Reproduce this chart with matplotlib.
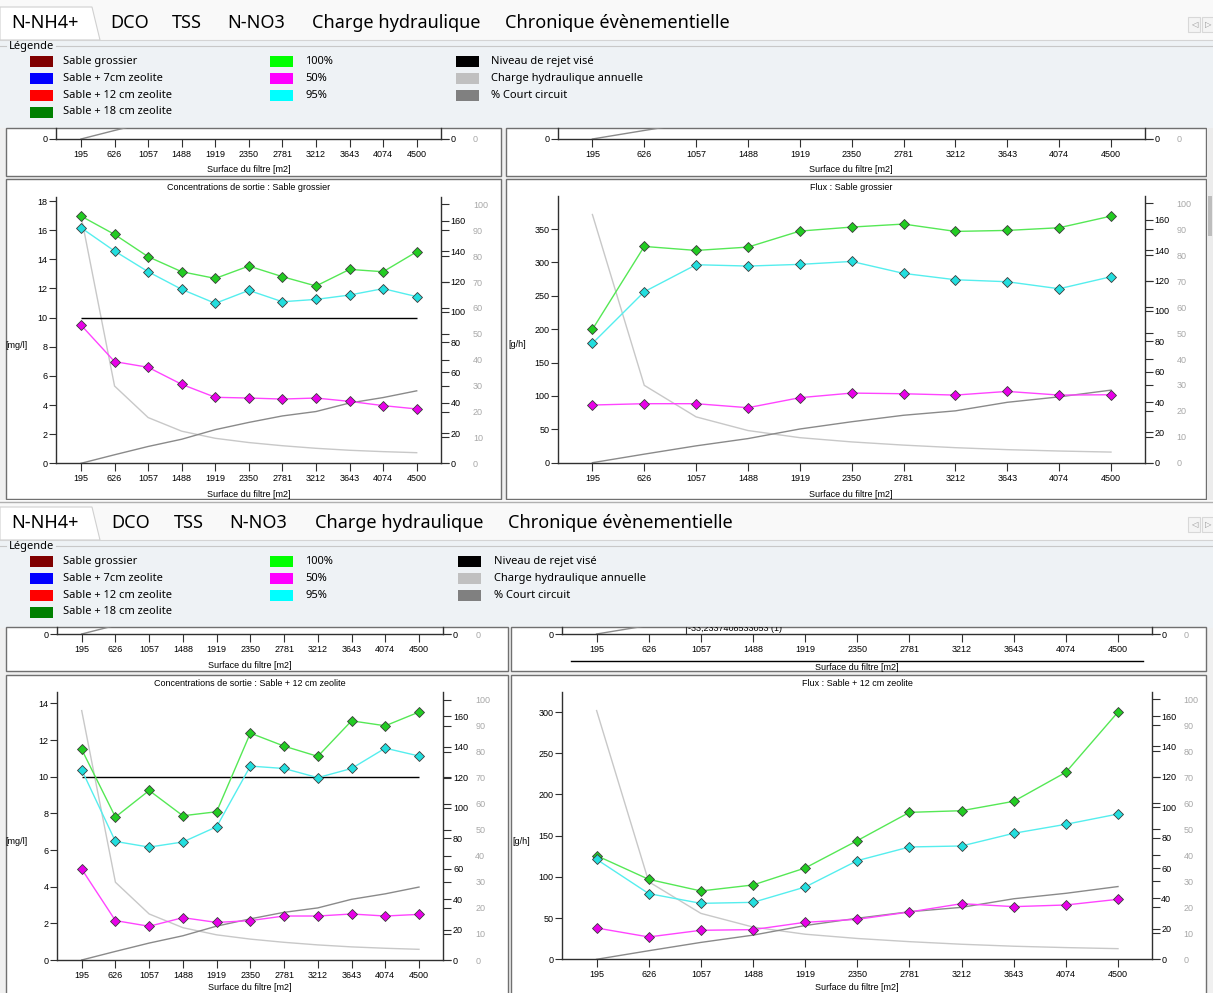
import numpy as np
import matplotlib.pyplot as plt
from matplotlib.patches import Rectangle, Polygon
from matplotlib.lines import Line2D
from matplotlib import font_manager

# surfaces du filtre (m2), abscisses communes a tous les graphes
surfaces = ['195', '626', '1057', '1488', '1919', '2350', '2781', '3212', '3643', '4074', '4500']
idx = np.arange(len(surfaces))

# courbes communes (axes secondaires)
charge = [163.6, 51.0, 30.2, 21.2, 16.5, 13.7, 11.6, 9.9, 8.6, 7.7, 7.0]
court_circuit = [0, 3.3, 6.5, 9.3, 13.0, 15.8, 18.3, 20.0, 23.3, 25.4, 28.0]
rejet = 10

# Sable grossier
c100_gros = [16.97, 15.71, 14.18, 13.15, 12.69, 13.54, 12.81, 12.17, 13.31, 13.15, 14.52]
c95_gros = [16.17, 14.57, 13.15, 11.94, 10.98, 11.87, 11.09, 11.25, 11.55, 11.99, 11.44]
c50_gros = [9.49, 6.98, 6.59, 5.42, 4.53, 4.48, 4.41, 4.48, 4.25, 3.96, 3.73]
f100_gros = [199.7, 324.0, 318.0, 323.0, 347.0, 353.0, 357.5, 346.5, 348.0, 352.0, 369.4]
f95_gros = [178.7, 256.1, 296.6, 294.6, 297.1, 301.5, 283.6, 274.1, 271.1, 260.6, 278.6]
f50_gros = [86.4, 88.4, 88.4, 82.4, 97.4, 104.3, 103.3, 101.3, 106.8, 101.3, 101.8]

# Sable + 12 cm zeolite
c100_z12 = [11.49, 7.80, 9.25, 7.87, 8.09, 12.38, 11.67, 11.11, 13.05, 12.78, 13.53]
c95_z12 = [10.38, 6.47, 6.16, 6.44, 7.27, 10.58, 10.45, 9.95, 10.45, 11.56, 11.13]
c50_z12 = [4.96, 2.15, 1.84, 2.31, 2.05, 2.15, 2.40, 2.40, 2.51, 2.40, 2.49]
f100_z12 = [125.8, 97.0, 82.9, 90.2, 110.8, 144.0, 178.3, 180.3, 191.7, 226.9, 300.0]
f95_z12 = [121.3, 79.7, 67.9, 69.1, 87.7, 119.7, 136.3, 137.5, 152.9, 163.8, 176.3]
f50_z12 = [38.0, 27.1, 35.2, 36.0, 44.9, 48.5, 57.4, 67.5, 63.9, 65.9, 72.8]

onglets = ['N-NH4+', 'DCO', 'TSS', 'N-NO3', 'Charge hydraulique', 'Chronique évènementielle']
leg_filtres = ['Sable grossier', 'Sable + 7cm zeolite', 'Sable + 12 cm zeolite', 'Sable + 18 cm zeolite']
leg_filtres_col = ['#800000', '#0000ff', '#ff0000', '#008000']
leg_pct = ['100%', '50%', '95%']
leg_pct_col = ['#00ff00', '#ff00ff', '#00ffff']
leg_autres = ['Niveau de rejet visé', 'Charge hydraulique annuelle', '% Court circuit']
leg_autres_col = ['#000000', '#c0c0c0', '#808080']

W, H = 1213, 993
fig = plt.figure(figsize=(W / 100, H / 100), dpi=100)
fig.patch.set_facecolor('#f0f0f0')

names = {f.name for f in font_manager.fontManager.ttflist}
if 'Liberation Sans Narrow' in names:
    SMALL, SSZ = 'Liberation Sans Narrow', 7
else:
    SMALL, SSZ = 'Liberation Sans', 6.5
UI = 'Noto Sans'


def box(x, y, w, h):
    return [x / W, 1 - (y + h) / H, w / W, h / H]


def T(x, y, s, size=SSZ, family=SMALL, color='black', ha='center', va='center', **kw):
    return fig.text(x / W, 1 - y / H, s, fontsize=size, family=family, color=color, ha=ha, va=va, **kw)


def R(x, y, w, h, fc, ec='none', lw=1, z=-1):
    fig.add_artist(Rectangle((x / W, 1 - (y + h) / H), w / W, h / H, fc=fc, ec=ec, lw=lw, zorder=z))


def L(x1, y1, x2, y2, color='black', lw=1, z=1):
    fig.add_artist(Line2D([x1 / W, x2 / W], [1 - y1 / H, 1 - y2 / H], color=color, lw=lw, zorder=z))


def entete(y0, tabs_x):
    # barre d'onglets
    R(0, y0, W, 40, '#f9f9f9')
    fig.add_artist(Polygon([(0, 1 - (y0 + 40) / H), (0, 1 - (y0 + 7) / H), (92 / W, 1 - (y0 + 7) / H),
                            (100 / W, 1 - (y0 + 40) / H)], closed=True, fc='white', ec='#d0d0d0',
                           lw=0.8, zorder=-0.5))
    for name, x in zip(onglets, tabs_x):
        T(x, y0 + 23, name, size=13, family=UI, ha='left')
    R(1188, y0 + 17, 12, 15, '#f4f4f4', ec='#d8d8d8', lw=0.8, z=1)
    R(1202, y0 + 17, 12, 15, '#f4f4f4', ec='#d8d8d8', lw=0.8, z=1)
    T(1194, y0 + 25, '◁', size=6, family='DejaVu Sans', color='#909090')
    T(1208, y0 + 25, '▷', size=6, family='DejaVu Sans', color='#909090')
    # zone legende
    R(0, y0 + 40, W, 88, '#eef2f5')
    L(0, y0 + 40, W, y0 + 40, '#d4d4d4', 0.8)
    L(0, y0 + 46, 6, y0 + 46, '#c8c8c8', 0.8)
    L(56, y0 + 46, W, y0 + 46, '#c8c8c8', 0.8)
    T(9, y0 + 46, 'Légende', size=8, family=UI, ha='left')
    rows = [y0 + 61.5, y0 + 78.5, y0 + 95.5, y0 + 112]
    cols = [(30, 63, leg_filtres, leg_filtres_col), (270, 305, leg_pct, leg_pct_col),
            (456 + (y0 > 0) * 2, 491 + (y0 > 0) * 3, leg_autres, leg_autres_col)]
    for xs, xt, labels, colors in cols:
        for lab, col, y in zip(labels, colors, rows):
            R(xs, y - 5.5, 23, 11, col, z=1)
            T(xt, y, lab, size=8, family=UI, ha='left')


def chart(l, r, t, b, x0, x10, ylim, yticks, series=(), level=None, partial=False, full_h=267.0):
    ax = fig.add_axes(box(l, t, r - l, b - t))
    step = (x10 - x0) / 10
    ax.set_xlim(-(x0 - l) / step, 10 + (r - x10) / step)
    axc = ax.twinx()
    axp = ax.twinx()
    frac = (b - t) / full_h if partial else 1.0
    ax.set_ylim(*ylim)
    ax.set_yticks(yticks)
    axc.set_ylim(0, 176 * frac)
    axp.set_ylim(0, 103 * frac)
    if partial:
        axc.set_yticks([0])
        axp.set_yticks([0])
    else:
        axc.set_yticks(np.arange(0, 161, 20))
        axp.set_yticks(np.arange(0, 101, 10))
    ax.set_xticks(idx, surfaces)

    for a in (ax, axc, axp):
        a.spines['top'].set_visible(False)
        for s in a.spines.values():
            s.set_color('#303030')
            s.set_linewidth(1)
    ax.spines['right'].set_visible(False)
    for a in (axc, axp):
        a.spines['left'].set_visible(False)
        a.spines['bottom'].set_visible(False)
    axp.spines['right'].set_visible(False)

    ax.tick_params(axis='y', length=5, width=0.8, pad=1, labelsize=SSZ, color='#303030')
    ax.tick_params(axis='x', length=6, width=0.8, pad=2, labelsize=SSZ, color='#303030')
    axc.tick_params(axis='y', length=6, width=0.8, pad=1, labelsize=SSZ, color='#303030')
    axp.tick_params(axis='y', length=6, width=0.8, pad=17, labelsize=SSZ, color='#303030',
                    labelcolor='#a8a8a8')
    for a in (ax, axc, axp):
        for lab in a.get_xticklabels() + a.get_yticklabels():
            lab.set_family(SMALL)

    axp.plot(idx, court_circuit, color='#8a8a8a', lw=1)
    if not partial:
        axc.plot(idx, charge, color='#c8c8c8', lw=1)
    if level is not None:
        ax.hlines(level, 0, 10, color='black', lw=1)
    for vals, lc, mc in series:
        ax.plot(idx, vals, color=lc, lw=1, marker='D', ms=4.8, mfc=mc, mec='#3a3a3a', mew=0.6)

    ax.set_zorder(axp.get_zorder() + 1)
    ax.patch.set_visible(False)
    return ax


def trio(v100, v95, v50):
    return [(v100, '#55e855', '#22cc22'), (v95, '#55eeee', '#22dede'), (v50, '#ff44ff', '#e800e8')]


# ---------- premiere capture : Sable grossier ----------
entete(0, [11, 110, 172, 227, 312, 505])

R(6, 128, 495, 48, 'white', '#707070', 1)
R(506, 128, 700, 48, 'white', '#707070', 1)
R(6, 179, 495, 320, 'white', '#707070', 1)
R(506, 179, 700, 320, 'white', '#707070', 1)
R(1207, 128, 6, 372, '#ececec')
R(1208, 196, 4, 40, '#bdbdbd')

chart(56, 441, 128, 139, 81, 416.7, (0, 0.755), [0], partial=True, full_h=266.6)
T(248.5, 170, 'Surface du filtre [m2]')
chart(557.8, 1144.7, 128, 139, 592.4, 1111, (0, 16.5), [0], partial=True, full_h=266.6)
T(851, 170, 'Surface du filtre [m2]')

chart(56, 441, 196.7, 463.3, 81, 416.7, (0, 18.3), np.arange(0, 19, 2),
      trio(c100_gros, c95_gros, c50_gros), level=rejet)
T(248.5, 188, 'Concentrations de sortie : Sable grossier')
T(17, 345, '[mg/l]')
T(248.5, 495, 'Surface du filtre [m2]')

chart(557.8, 1144.7, 195.7, 462.7, 592.4, 1111, (0, 400), np.arange(0, 351, 50),
      trio(f100_gros, f95_gros, f50_gros))
T(851, 188, 'Flux : Sable grossier')
T(517, 344, '[g/h]')
T(851, 495, 'Surface du filtre [m2]')

# ---------- seconde capture : Sable + 12 cm zeolite ----------
L(0, 501.5, W, 501.5, '#b0b0b0', 1)
entete(500, [11, 111, 174, 229, 315, 508])

R(6, 627, 502, 44, 'white', '#707070', 1)
R(511, 627, 695, 44, 'white', '#707070', 1)
R(6, 675, 502, 330, 'white', '#707070', 1)
R(511, 675, 695, 330, 'white', '#707070', 1)

chart(56.7, 443.3, 627, 634, 81.7, 419, (0, 0.38), [0], partial=True, full_h=268.3)
T(250, 666, 'Surface du filtre [m2]')
axb = chart(561.7, 1151.7, 627, 634, 596.6, 1118, (0, 8.5), [0], partial=True, full_h=268.3)
axb.text((688 - 561.7) / 590, 0.2, '-33,2337408533053 (1)', transform=axb.transAxes, fontsize=SSZ,
         family=SMALL, ha='left', va='bottom', clip_on=True)
L(686, 627, 686, 634, '#303030', 0.8)
L(571, 661, 1143, 661, 'black', 1)
T(857, 667, 'Surface du filtre [m2]')

chart(56.7, 443.3, 691.7, 960, 81.7, 419, (0, 14.64), np.arange(0, 15, 2),
      trio(c100_z12, c95_z12, c50_z12), level=rejet, full_h=268.3)
T(250, 684, 'Concentrations de sortie : Sable + 12 cm zeolite')
T(17, 842, '[mg/l]')
T(250, 987, 'Surface du filtre [m2]')

chart(561.9, 1151.5, 691.7, 959.3, 596.6, 1118, (0, 324.7), np.arange(0, 301, 50),
      trio(f100_z12, f95_z12, f50_z12), full_h=268.3)
T(857, 684, 'Flux : Sable + 12 cm zeolite')
T(521, 842, '[g/h]')
T(857, 987, 'Surface du filtre [m2]')

fig.savefig('out.png', dpi=100, facecolor=fig.get_facecolor())
